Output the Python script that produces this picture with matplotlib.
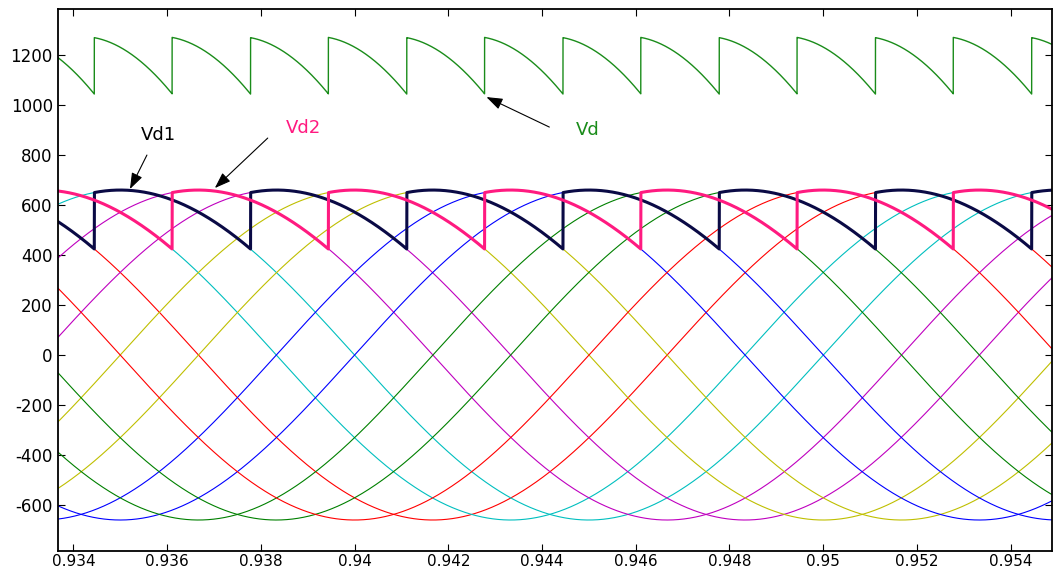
import numpy as np
import matplotlib
matplotlib.use('Agg')
from matplotlib import pyplot as plt

# values
amplitude = 660.0          # peak of every line voltage
freq = 50.0                # supply frequency, Hz
firing_delay_deg = 20.0    # firing angle of both bridges
# times of the positive peaks of the 12 line voltages (30 deg apart)
peak_times = [0.93167, 0.93333, 0.93500, 0.93667, 0.93833, 0.94000,
              0.94167, 0.94333, 0.94500, 0.94667, 0.94833, 0.95000]
line_colors = ['#ff0000', '#00bfbf', '#00bfbf', '#bf00bf', '#bf00bf', '#bfbf00',
               '#bfbf00', '#0000ff', '#0000ff', '#008000', '#008000', '#ff0000']
# the bridge output follows the even (bridge 1) / odd (bridge 2) voltages
bridge1_first_peak = peak_times[0]
bridge2_first_peak = peak_times[1]

x_ticks = [0.934, 0.936, 0.938, 0.94, 0.942, 0.944, 0.946, 0.948, 0.95, 0.952, 0.954]
y_ticks = [-600, -400, -200, 0, 200, 400, 600, 800, 1000, 1200]
x_range = (0.93368, 0.95488)
y_range = (-784, 1383)

t = np.arange(0.9334, 0.9552, 1e-6)


def line_voltage(t_peak):
    return amplitude * np.cos(2 * np.pi * freq * (t - t_peak))


def bridge_output(t_first_peak):
    # each valve conducts from (peak - 30 + alpha) to (peak + 30 + alpha)
    start = 30.0 - firing_delay_deg
    ph = ((t - t_first_peak) * freq * 360.0 + start) % 60.0 - start
    return amplitude * np.cos(np.radians(ph))


vd1 = bridge_output(bridge1_first_peak)
vd2 = bridge_output(bridge2_first_peak)
vd = vd1 + vd2

plt.rcParams['font.family'] = ['DejaVu Sans']
plt.rcParams['axes.unicode_minus'] = False
fig = plt.figure(figsize=(10.53, 5.72), dpi=100)
ax = fig.add_axes([0.0554, 0.0367, 0.9436, 0.947])

for tp, c in zip(peak_times, line_colors):
    ax.plot(t, line_voltage(tp), color=c, lw=0.8)

ax.plot(t, vd, color='#1a8c1a', lw=1.0)
ax.plot(t, vd1, color='#0a0a45', lw=2.2)
ax.plot(t, vd2, color='#ff1a80', lw=2.2)

arrow = dict(arrowstyle='-|>,head_length=0.7,head_width=0.25', color='black',
             lw=0.8, mutation_scale=14, shrinkA=0, shrinkB=0)
ax.annotate('', xy=(0.935208, 664), xytext=(0.93557, 800), arrowprops=arrow)
ax.annotate('', xy=(0.937019, 668), xytext=(0.938148, 868), arrowprops=arrow)
ax.annotate('', xy=(0.942814, 1032), xytext=(0.944156, 912), arrowprops=arrow)
ax.text(0.935807, 880, 'Vd1', color='black', fontsize=13, ha='center', va='center')
ax.text(0.938916, 908, 'Vd2', color='#ff1a80', fontsize=13, ha='center', va='center')
ax.text(0.944965, 900, 'Vd', color='#1a8c1a', fontsize=13, ha='center', va='center')

ax.set_xlim(*x_range)
ax.set_ylim(*y_range)
ax.set_xticks(x_ticks)
ax.set_xticklabels([('%g' % v) for v in x_ticks])
ax.set_yticks(y_ticks)
ax.tick_params(direction='in', length=5, width=0.8, top=True, right=True,
               labelsize=12, pad=4)
ax.tick_params(axis='x', labelsize=11, pad=2.5)
for s in ax.spines.values():
    s.set_linewidth(1.3)

fig.savefig('out.png', dpi=100)
